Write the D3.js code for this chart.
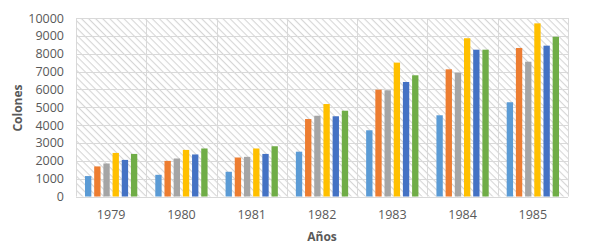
<!DOCTYPE html>
<html>
<head>
<meta charset="utf-8">
<script src="https://cdn.jsdelivr.net/npm/d3@7"></script>
<style>
  body { margin: 0; background: #fff; }
  text { font-family: "Open Sans", sans-serif; fill: #595959; }
</style>
</head>
<body>
<div id="vis"></div>
<script>
//categories and series
const years = ["1979", "1980", "1981", "1982", "1983", "1984", "1985"]
const serie1 = [1145, 1215, 1385, 2510, 3710, 4550, 5280]
const serie2 = [1685, 1995, 2185, 4340, 5985, 7125, 8320]
const serie3 = [1850, 2130, 2220, 4525, 5950, 6935, 7550]
const serie4 = [2440, 2610, 2690, 5180, 7500, 8865, 9700]
const serie5 = [2050, 2355, 2385, 4495, 6415, 8225, 8450]
const serie6 = [2385, 2690, 2815, 4805, 6790, 8225, 8950]
const yTicks = [0, 1000, 2000, 3000, 4000, 5000, 6000, 7000, 8000, 9000, 10000]

const series = [serie1, serie2, serie3, serie4, serie5, serie6]
const colors = ["#5B9BD5", "#ED7D31", "#A5A5A5", "#FFC000", "#4472C4", "#70AD47"]

const width = 589
const height = 248
const margin = { top: 18, right: 21, bottom: 52, left: 76 }

const svg = d3.select("#vis")
    .append("svg")
    .attr("width", width)
    .attr("height", height)

//diagonal hatch for the plot area (lines run top-left to bottom-right)
const pattern = svg.append("defs")
    .append("pattern")
    .attr("id", "hatch")
    .attr("patternUnits", "userSpaceOnUse")
    .attr("width", 5)
    .attr("height", 5)
    .attr("patternTransform", "rotate(45)")
pattern.append("rect")
    .attr("width", 5)
    .attr("height", 5)
    .attr("fill", "#fff")
pattern.append("line")
    .attr("x1", 0).attr("y1", 0)
    .attr("x2", 5).attr("y2", 0)
    .attr("stroke", "#d6d6d6")
    .attr("stroke-width", 2.2)

const x = d3.scaleBand()
    .domain(years)
    .range([margin.left, width - margin.right])

const y = d3.scaleLinear()
    .domain([0, 10000])
    .range([height - margin.bottom + 0.5, margin.top])

//bars inside a category
const inner = d3.scaleBand()
    .domain(d3.range(series.length))
    .range([9, x.bandwidth() - 9])
    .paddingInner(0.31)

svg.append("rect")
    .attr("x", margin.left)
    .attr("y", margin.top)
    .attr("width", width - margin.left - margin.right)
    .attr("height", y(0) - margin.top)
    .attr("fill", "url(#hatch)")

//horizontal gridlines
svg.append("g")
    .selectAll("line")
    .data(yTicks)
    .enter()
    .append("line")
    .attr("x1", margin.left)
    .attr("x2", width - margin.right)
    .attr("y1", d => Math.round(y(d)) + 0.5)
    .attr("y2", d => Math.round(y(d)) + 0.5)
    .attr("stroke", "#d9d9d9")
    .attr("stroke-width", 1)

//vertical gridlines at category edges
svg.append("g")
    .selectAll("line")
    .data(years.concat(["end"]))
    .enter()
    .append("line")
    .attr("x1", (d, i) => Math.round(margin.left + i * x.step()) + 0.5)
    .attr("x2", (d, i) => Math.round(margin.left + i * x.step()) + 0.5)
    .attr("y1", margin.top)
    .attr("y2", y(0))
    .attr("stroke", "#d9d9d9")
    .attr("stroke-width", 1)

//bars
const groups = svg.append("g")
    .selectAll("g")
    .data(years)
    .enter()
    .append("g")
    .attr("transform", d => `translate(${x(d)},0)`)

groups.selectAll("rect")
    .data((d, i) => series.map((s, k) => ({ k: k, v: s[i] })))
    .enter()
    .append("rect")
    .attr("x", d => inner(d.k))
    .attr("width", inner.bandwidth())
    .attr("y", d => y(d.v))
    .attr("height", d => y(0) - y(d.v))
    .attr("fill", d => colors[d.k])

//y axis labels
svg.append("g")
    .selectAll("text")
    .data(yTicks)
    .enter()
    .append("text")
    .attr("x", 64)
    .attr("y", d => y(d))
    .attr("dy", "0.36em")
    .attr("text-anchor", "end")
    .style("font-size", "12.5px")
    .text(d => d)

//x axis labels
svg.append("g")
    .selectAll("text")
    .data(years)
    .enter()
    .append("text")
    .attr("x", d => x(d) + x.bandwidth() / 2)
    .attr("y", 219)
    .attr("text-anchor", "middle")
    .style("font-size", "12.5px")
    .text(d => d)

//axis titles
svg.append("text")
    .attr("transform", "translate(22,108) rotate(-90)")
    .attr("text-anchor", "middle")
    .style("font-size", "12px")
    .style("font-weight", "bold")
    .text("Colones")

svg.append("text")
    .attr("x", margin.left + (width - margin.left - margin.right) / 2)
    .attr("y", 241)
    .attr("text-anchor", "middle")
    .style("font-size", "12px")
    .style("font-weight", "bold")
    .text("Años")
</script>
</body>
</html>
